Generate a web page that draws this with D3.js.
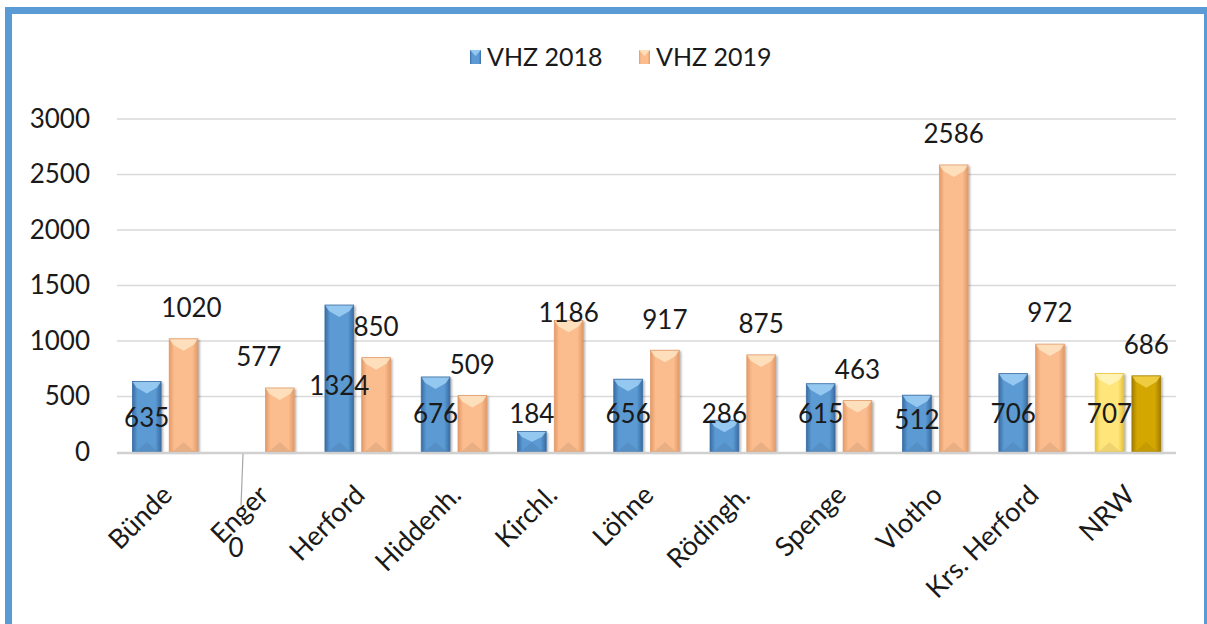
<!DOCTYPE html>
<html>
<head>
<meta charset="utf-8">
<script src="https://cdn.jsdelivr.net/npm/d3@7"></script>
<style>
  body { margin: 0; background: #fff; }
  text { font-family: Lato, "Open Sans", sans-serif; fill: #1a1a1a; }
</style>
</head>
<body>
<div id="chart"></div>
<script>
// data
const categories = ['Bünde', 'Enger', 'Herford', 'Hiddenh.', 'Kirchl.', 'Löhne', 'Rödingh.', 'Spenge', 'Vlotho', 'Krs. Herford', 'NRW'];
const vhz2018 = [635, 0, 1324, 676, 184, 656, 286, 615, 512, 706, 707];
const vhz2019 = [1020, 577, 850, 509, 1186, 917, 875, 463, 2586, 972, 686];
const seriesNames = ['VHZ 2018', 'VHZ 2019'];
const yTicks = [0, 500, 1000, 1500, 2000, 2500, 3000];

// where the (hand moved) labels of 2018 sit, in data units; default is 350
const label2018At = { 'Bünde': 310, 'Enger': -860, 'Herford': 600, 'Vlotho': 290 };

let dim = { width: 1207, height: 624 };

let svg = d3.select('#chart').append('svg')
    .attr('width', dim.width)
    .attr('height', dim.height)
    .style('display', 'block');

// palettes: [edge, centre, highlight]
const pal = {
    blue:   ['#3a6da3', '#5b9ad4', '#9fd0f5'],
    orange: ['#e39a68', '#fbbd8e', '#fee5c4'],
    yellow: ['#e6c23c', '#ffe57a', '#fff6bf'],
    gold:   ['#a27c00', '#d3a700', '#f3d24a']
};

let defs = svg.append('defs');
Object.keys(pal).forEach(function(k){
    let g = defs.append('linearGradient').attr('id', 'grad-' + k)
        .attr('x1', 0).attr('x2', 1).attr('y1', 0).attr('y2', 0);
    g.append('stop').attr('offset', '0%').attr('stop-color', pal[k][0]);
    g.append('stop').attr('offset', '18%').attr('stop-color', pal[k][1]);
    g.append('stop').attr('offset', '80%').attr('stop-color', pal[k][1]);
    g.append('stop').attr('offset', '100%').attr('stop-color', pal[k][0]);
});
let sh = defs.append('filter').attr('id', 'shadow').attr('x', '-20%').attr('width', '160%');
sh.append('feDropShadow').attr('dx', 2).attr('dy', 1).attr('stdDeviation', 1.2)
    .attr('flood-color', '#000').attr('flood-opacity', 0.3);

// frame
svg.append('rect')
    .attr('x', 8.5).attr('y', 10.5)
    .attr('width', 1199).attr('height', 700)
    .attr('fill', 'none')
    .attr('stroke', '#5b9bd5')
    .attr('stroke-width', 7);

let x0 = d3.scaleBand().domain(categories).range([117, 1176]).paddingInner(0.32).paddingOuter(0.16);
let x1 = d3.scaleBand().domain(seriesNames).range([0, x0.bandwidth()]).paddingInner(0.22);
let y = d3.scaleLinear().domain([0, 3000]).range([452, 119]);

// grid
svg.append('g').selectAll('line')
    .data(yTicks.filter(d => d > 0))
    .join('line')
    .attr('x1', 117).attr('x2', 1176)
    .attr('y1', d => y(d)).attr('y2', d => y(d))
    .attr('stroke', '#d9d9d9').attr('stroke-width', 1.5);

// y axis labels
let yAxis = d3.axisLeft(y).tickValues(yTicks).tickFormat(d3.format('d')).tickSize(0).tickPadding(0);
let ya = svg.append('g').attr('transform', 'translate(90,0)').call(yAxis);
ya.select('.domain').remove();
ya.selectAll('text').attr('font-size', 26).attr('fill', '#1a1a1a')
    .style('font-family', 'Lato, sans-serif');

function barColor(cat, s){
    if (cat === 'NRW') return s === 0 ? 'yellow' : 'gold';
    return s === 0 ? 'blue' : 'orange';
}

let rows = [];
categories.forEach(function(c, i){
    rows.push({ cat: c, s: 0, v: vhz2018[i] });
    rows.push({ cat: c, s: 1, v: vhz2019[i] });
});

let bars = svg.append('g').selectAll('g')
    .data(rows.filter(d => d.v > 0))
    .join('g')
    .attr('transform', d => 'translate(' + (x0(d.cat) + x1(seriesNames[d.s])) + ',0)');

let bw = x1.bandwidth();
bars.append('rect')
    .attr('x', 0).attr('width', bw)
    .attr('y', d => y(d.v)).attr('height', d => y(0) - y(d.v))
    .attr('fill', d => 'url(#grad-' + barColor(d.cat, d.s) + ')')
    .attr('filter', 'url(#shadow)');

// bevel: light chevron on top, faint one at the bottom
bars.append('path')
    .attr('d', function(d){
        let t = y(d.v), h = Math.min(12, (y(0) - t) / 2);
        return 'M0,' + t + 'L' + bw + ',' + t + 'L' + (bw - 4) + ',' + (t + h * 0.5) +
               'L' + (bw / 2) + ',' + (t + h) + 'L4,' + (t + h * 0.5) + 'Z';
    })
    .attr('fill', d => pal[barColor(d.cat, d.s)][2])
    .attr('opacity', 0.85);
bars.append('path')
    .attr('d', function(d){
        let b = y(0), h = Math.min(10, (y(0) - y(d.v)) / 2);
        return 'M3,' + b + 'L' + (bw / 2) + ',' + (b - h) + 'L' + (bw - 3) + ',' + b + 'Z';
    })
    .attr('fill', '#000').attr('opacity', 0.07);
bars.append('rect')
    .attr('x', 0).attr('width', bw)
    .attr('y', d => y(d.v)).attr('height', d => y(0) - y(d.v))
    .attr('fill', 'none').attr('stroke', d => pal[barColor(d.cat, d.s)][0])
    .attr('stroke-width', 0.8);

// baseline
svg.append('line')
    .attr('x1', 117).attr('x2', 1176)
    .attr('y1', y(0) + 1).attr('y2', y(0) + 1)
    .attr('stroke', '#d0d0d0').attr('stroke-width', 2.5);

// leader line for Enger 0
let engerX = x0('Enger') + x1('VHZ 2018') + bw / 2;
svg.append('line')
    .attr('x1', engerX).attr('y1', y(0) + 2)
    .attr('x2', engerX - 2).attr('y2', y(label2018At['Enger']) - 42)
    .attr('stroke', '#a6a6a6').attr('stroke-width', 1.2);

// value labels
let lab = svg.append('g').attr('font-size', 26).attr('text-anchor', 'middle');
lab.selectAll('.l18')
    .data(categories)
    .join('text')
    .attr('class', 'l18')
    .attr('x', (c) => x0(c) + x1('VHZ 2018') + bw / 2 + (c === 'Enger' ? -7 : 0))
    .attr('y', (c) => y(label2018At[c] !== undefined ? label2018At[c] : 350))
    .attr('dy', '0.36em')
    .text((c, i) => vhz2018[i]);
lab.selectAll('.l19')
    .data(categories)
    .join('text')
    .attr('class', 'l19')
    .attr('x', (c) => x0(c) + x1('VHZ 2019') + bw / 2 + (c === 'Enger' ? -21 : c === 'Bünde' ? 8 : 0))
    .attr('y', (c, i) => y(vhz2019[i]) - (c === 'Kirchl.' ? 8 : 31))
    .attr('dy', '0.36em')
    .text((c, i) => vhz2019[i]);

// category labels
svg.append('g').selectAll('text')
    .data(categories)
    .join('text')
    .attr('font-size', 27)
    .attr('text-anchor', 'end')
    .attr('dy', '0.72em')
    .attr('transform', c => 'translate(' + (x0(c) + x0.bandwidth() / 2 - 5) + ',483) rotate(-45)')
    .text(c => c);

// legend
let leg = svg.append('g').attr('transform', 'translate(470,57)');
let legItems = leg.selectAll('g')
    .data(seriesNames)
    .join('g')
    .attr('transform', (d, i) => 'translate(' + (i * 169) + ',0)');
legItems.append('rect')
    .attr('x', 0).attr('y', -7).attr('width', 11).attr('height', 14)
    .attr('fill', (d, i) => 'url(#grad-' + (i === 0 ? 'blue' : 'orange') + ')');
legItems.append('path')
    .attr('d', 'M0,-7L11,-7L5.5,-1Z')
    .attr('fill', (d, i) => pal[i === 0 ? 'blue' : 'orange'][2]).attr('opacity', 0.85);
legItems.append('text')
    .attr('x', 17).attr('dy', '0.36em')
    .attr('font-size', 25)
    .text(d => d);
</script>
</body>
</html>
